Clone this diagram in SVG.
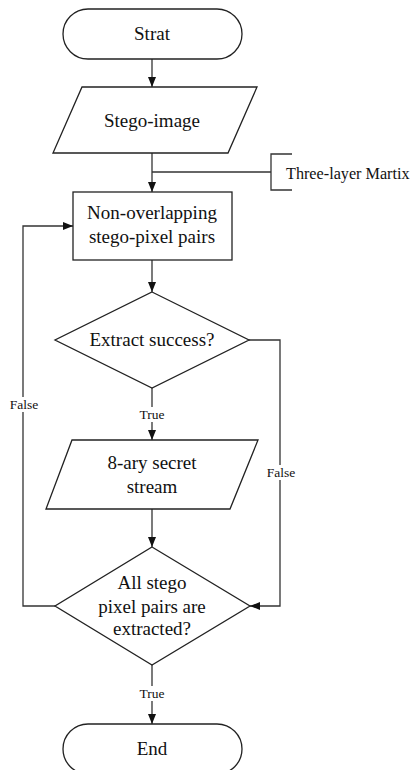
<svg xmlns="http://www.w3.org/2000/svg" width="413" height="770" viewBox="0 0 413 770">
<defs>
<marker id="arr" markerUnits="userSpaceOnUse" markerWidth="10" markerHeight="10" viewBox="0 0 10 10" refX="10" refY="5" orient="auto">
<path d="M0,1 L10,5 L0,9 Z" fill="#111"/>
</marker>
<style>
.shape{fill:#fff;stroke:#222;stroke-width:1.3}
.line{fill:none;stroke:#333;stroke-width:1.3}
.t{font-family:"Liberation Serif","Times New Roman",serif;font-size:19px;fill:#111;text-anchor:middle}
.s{font-family:"Liberation Serif","Times New Roman",serif;font-size:13.5px;fill:#111;text-anchor:middle}
.bg{fill:#fff}
</style>
</defs>
<rect width="413" height="770" fill="#fff"/>
<g id="connectors">
<path class="line" d="M152,59 V87" marker-end="url(#arr)"/>
<path class="line" d="M152,153 V192" marker-end="url(#arr)"/>
<path class="line" d="M152,172 H271"/>
<path class="line" d="M292,154 H271 V190 H292"/>
<path class="line" d="M152,260 V292" marker-end="url(#arr)"/>
<path class="line" d="M152,388 V440" marker-end="url(#arr)"/>
<path class="line" d="M152,509 V547" marker-end="url(#arr)"/>
<path class="line" d="M249,340 H280 V606 H250" marker-end="url(#arr)"/>
<path class="line" d="M55,606 H23 V226 H73" marker-end="url(#arr)"/>
<path class="line" d="M152,665 V724" marker-end="url(#arr)"/>
<rect class="bg" x="137" y="407" width="30" height="15"/>
<text class="s" x="152" y="419">True</text>
<rect class="bg" x="137" y="686" width="30" height="15"/>
<text class="s" x="152" y="698">True</text>
<rect class="bg" x="7" y="397" width="34" height="15"/>
<text class="s" x="24" y="409">False</text>
<rect class="bg" x="264" y="465" width="34" height="15"/>
<text class="s" x="281" y="477">False</text>
</g>
<g id="start">
<rect class="shape" x="63" y="9" width="179" height="50" rx="25" ry="25"/>
<text class="t" x="152" y="40">Strat</text>
</g>
<g id="stego-image">
<polygon class="shape" points="82,87 257,87 228,153 53,153"/>
<text class="t" x="152" y="127">Stego-image</text>
</g>
<g id="matrix">
<text class="t" x="286" y="179" style="text-anchor:start;font-size:16.2px">Three-layer Martix</text>
</g>
<g id="pairs">
<rect class="shape" x="73" y="192" width="159" height="68"/>
<text class="t" x="152" y="219">Non-overlapping</text>
<text class="t" x="152" y="243">stego-pixel pairs</text>
</g>
<g id="extract">
<polygon class="shape" points="152,292 249,340 152,388 55,340"/>
<text class="t" x="152" y="346">Extract success?</text>
</g>
<g id="secret">
<polygon class="shape" points="72,440 258,440 230,509 46,509"/>
<text class="t" x="152" y="469">8-ary secret</text>
<text class="t" x="152" y="493">stream</text>
</g>
<g id="all">
<polygon class="shape" points="152,547 250,606 152,665 55,606"/>
<text class="t" x="152" y="589">All stego</text>
<text class="t" x="152" y="613">pixel pairs are</text>
<text class="t" x="152" y="635">extracted?</text>
</g>
<g id="end">
<rect class="shape" x="63" y="724" width="179" height="50" rx="25" ry="25"/>
<text class="t" x="152" y="755">End</text>
</g>
</svg>
